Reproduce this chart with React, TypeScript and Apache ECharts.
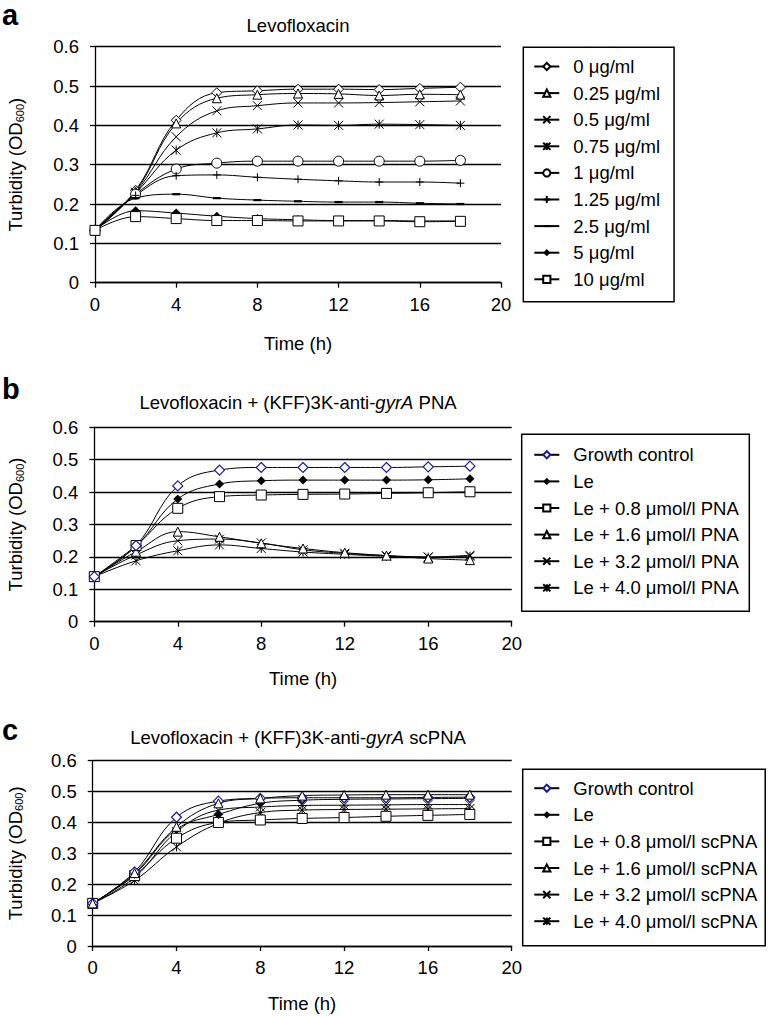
import React, { useEffect, useRef } from "react";
import * as echarts from "echarts";

// ---------- data ----------
const time = [0, 2, 4, 6, 8, 10, 12, 14, 16, 18];
const yTickLabels = ["0", "0.1", "0.2", "0.3", "0.4", "0.5", "0.6"];

// Panel a – Levofloxacin
const aNames = ["0 μg/ml", "0.25 μg/ml", "0.5 μg/ml", "0.75 μg/ml", "1 μg/ml", "1.25 μg/ml", "2.5 μg/ml", "5 μg/ml", "10 μg/ml"];
const a0 = [0.133, 0.235, 0.413, 0.483, 0.488, 0.492, 0.492, 0.491, 0.494, 0.497];
const a025 = [0.133, 0.232, 0.405, 0.469, 0.478, 0.481, 0.48, 0.476, 0.479, 0.478];
const a05 = [0.133, 0.23, 0.371, 0.437, 0.45, 0.457, 0.457, 0.458, 0.46, 0.462];
const a075 = [0.133, 0.228, 0.337, 0.381, 0.391, 0.401, 0.4, 0.403, 0.402, 0.4];
const a1 = [0.133, 0.225, 0.289, 0.304, 0.309, 0.309, 0.309, 0.309, 0.309, 0.311];
const a125 = [0.133, 0.222, 0.272, 0.274, 0.268, 0.263, 0.259, 0.256, 0.256, 0.253];
const a25 = [0.133, 0.215, 0.225, 0.215, 0.21, 0.207, 0.205, 0.205, 0.202, 0.2];
const a5 = [0.133, 0.183, 0.177, 0.169, 0.163, 0.16, 0.158, 0.158, 0.157, 0.157];
const a10 = [0.133, 0.168, 0.163, 0.158, 0.158, 0.157, 0.157, 0.157, 0.155, 0.156];

// Panel b – Levofloxacin + PNA
const bNames = ["Growth control", "Le", "Le + 0.8 μmol/l PNA", "Le + 1.6 μmol/l PNA", "Le + 3.2 μmol/l PNA", "Le + 4.0 μmol/l PNA"];
const bGC = [0.139, 0.235, 0.419, 0.468, 0.476, 0.476, 0.476, 0.476, 0.478, 0.48];
const bLe = [0.139, 0.233, 0.379, 0.425, 0.435, 0.437, 0.437, 0.437, 0.438, 0.441];
const b08 = [0.139, 0.235, 0.35, 0.386, 0.391, 0.393, 0.394, 0.396, 0.398, 0.401];
const b16 = [0.139, 0.216, 0.278, 0.262, 0.242, 0.226, 0.213, 0.204, 0.195, 0.19];
const b32 = [0.139, 0.206, 0.25, 0.255, 0.243, 0.222, 0.211, 0.204, 0.2, 0.205];
const b40 = [0.139, 0.188, 0.219, 0.237, 0.226, 0.215, 0.208, 0.202, 0.199, 0.202];

// Panel c – Levofloxacin + scPNA
const cNames = ["Growth control", "Le", "Le + 0.8 μmol/l scPNA", "Le + 1.6 μmol/l scPNA", "Le + 3.2 μmol/l scPNA", "Le + 4.0 μmol/l scPNA"];
const cGC = [0.138, 0.24, 0.417, 0.469, 0.478, 0.48, 0.48, 0.48, 0.481, 0.482];
const cLe = [0.138, 0.232, 0.378, 0.426, 0.462, 0.472, 0.475, 0.476, 0.477, 0.478];
const c08 = [0.138, 0.228, 0.349, 0.4, 0.408, 0.413, 0.416, 0.42, 0.423, 0.426];
const c16 = [0.138, 0.236, 0.386, 0.462, 0.478, 0.487, 0.489, 0.49, 0.49, 0.49];
const c32 = [0.138, 0.222, 0.37, 0.44, 0.45, 0.455, 0.456, 0.457, 0.458, 0.458];
const c40 = [0.138, 0.212, 0.321, 0.397, 0.432, 0.44, 0.442, 0.443, 0.444, 0.445];

// ---------- styles ----------
const FONT = "'Liberation Sans', Arial, sans-serif";
const FS = 18.5;
const BLUE = "#1c1c96";

const SYM: Record<string, any> = {
  diamondO: { symbol: "diamond", symbolSize: 10, itemStyle: { color: "#fff", borderColor: "#000", borderWidth: 1 } },
  diamondB: { symbol: "diamond", symbolSize: 10, itemStyle: { color: "#fff", borderColor: BLUE, borderWidth: 1.2 } },
  diamondF: { symbol: "diamond", symbolSize: 9, itemStyle: { color: "#000", borderColor: "#000", borderWidth: 0 } },
  triangle: { symbol: "triangle", symbolSize: 9, itemStyle: { color: "#fff", borderColor: "#000", borderWidth: 1 } },
  cross: { symbol: "path://M0,0L10,10M10,0L0,10", symbolSize: 9, itemStyle: { color: "none", borderColor: "#000", borderWidth: 1 } },
  aster: { symbol: "path://M0,0L10,10M10,0L0,10M5,0L5,10", symbolSize: 9, itemStyle: { color: "none", borderColor: "#000", borderWidth: 1 } },
  circle: { symbol: "circle", symbolSize: 10, itemStyle: { color: "#fff", borderColor: "#000", borderWidth: 1 } },
  plus: { symbol: "path://M5,0L5,10M0,5L10,5", symbolSize: 8, itemStyle: { color: "none", borderColor: "#000", borderWidth: 1 } },
  dash: { symbol: "path://M0,0M0,3.6L10,3.6L10,6.4L0,6.4ZM10,10", symbolSize: 8, itemStyle: { color: "#000", borderColor: "#000", borderWidth: 0 } },
  square: { symbol: "rect", symbolSize: 10, itemStyle: { color: "#fff", borderColor: "#000", borderWidth: 1 } },
};

function series(name: string, vals: number[], sym: string, idx: number) {
  const s = SYM[sym];
  return {
    type: "line",
    name,
    xAxisIndex: idx,
    yAxisIndex: idx,
    data: time.map((t, i) => [t, vals[i]]),
    smooth: 0.4,
    symbol: s.symbol,
    symbolSize: s.symbolSize,
    showAllSymbol: true,
    itemStyle: s.itemStyle,
    lineStyle: { color: "#000", width: 1 },
    emphasis: { disabled: true },
    silent: true,
  };
}

const grids = [
  { left: 95, top: 46.7, width: 406, height: 236, nameGapX: 51, nameGapY: 70 },
  { left: 94.3, top: 427.3, width: 417.4, height: 194.4, nameGapX: 47, nameGapY: 69 },
  { left: 92.7, top: 760.7, width: 419, height: 185.3, nameGapX: 48, nameGapY: 68 },
];

function legend(names: string[], left: number, top: number, padding: number[]) {
  return {
    orient: "vertical",
    left,
    top,
    data: names,
    itemWidth: 25,
    itemHeight: 9,
    itemGap: 7.6,
    padding,
    borderColor: "#000",
    borderWidth: 1.5,
    backgroundColor: "#fff",
    selectedMode: false,
    textStyle: { fontSize: FS, color: "#000", fontFamily: FONT, lineHeight: 18, padding: [0, 0, 0, 9] },
  };
}

export default function App() {
  const ref = useRef<HTMLDivElement>(null);
  useEffect(() => {
    if (!ref.current) return;
    const chart = echarts.init(ref.current, null, { renderer: "svg" });
    const axisText = { fontSize: FS, color: "#000", fontFamily: FONT };
    const option: any = {
      animation: false,
      backgroundColor: "#fff",
      grid: grids.map((g) => ({ left: g.left, top: g.top, width: g.width, height: g.height, containLabel: false, outerBoundsMode: "none" })),
      xAxis: grids.map((g, i) => ({
        type: "value",
        gridIndex: i,
        min: 0,
        max: 20,
        interval: 4,
        name: "Time (h)",
        nameLocation: "middle",
        nameGap: g.nameGapX,
        nameTextStyle: axisText,
        axisLine: { show: true, onZero: false, lineStyle: { color: "#000", width: 1.3 } },
        axisTick: { show: true, length: 5, lineStyle: { color: "#000", width: 1.3 } },
        axisLabel: { ...axisText, margin: 12 },
        splitLine: { show: false },
      })),
      yAxis: grids.map((g, i) => ({
        type: "value",
        gridIndex: i,
        min: 0,
        max: 0.6,
        interval: 0.1,
        name: "Turbidity (OD{s|600})",
        nameLocation: "middle",
        nameGap: g.nameGapY,
        nameTextStyle: { ...axisText, rich: { s: { fontSize: 11, fontFamily: FONT, color: "#000", verticalAlign: "bottom" } } },
        axisLine: { show: true, lineStyle: { color: "#000", width: 1.3 } },
        axisTick: { show: true, length: 5, lineStyle: { color: "#000", width: 1.3 } },
        axisLabel: { ...axisText, margin: 16, formatter: (v: number) => yTickLabels[Math.round(v * 10)] },
        splitLine: { show: true, lineStyle: { color: "#000", width: 1.3 } },
      })),
      legend: [
        legend(aNames, 523.3, 47.3, [9.7, 14, 12.9, 10]),
        legend(bNames, 521.7, 434.3, [11, 10.6, 14, 11.6]),
        legend(cNames, 522.7, 769.3, [9.4, 8, 15, 10.6]),
      ],
      series: [
        series(aNames[0], a0, "diamondO", 0),
        series(aNames[1], a025, "triangle", 0),
        series(aNames[2], a05, "cross", 0),
        series(aNames[3], a075, "aster", 0),
        series(aNames[4], a1, "circle", 0),
        series(aNames[5], a125, "plus", 0),
        series(aNames[6], a25, "dash", 0),
        series(aNames[7], a5, "diamondF", 0),
        series(aNames[8], a10, "square", 0),
        series(bNames[5], b40, "aster", 1),
        series(bNames[4], b32, "cross", 1),
        series(bNames[3], b16, "triangle", 1),
        series(bNames[2], b08, "square", 1),
        series(bNames[1], bLe, "diamondF", 1),
        series(bNames[0], bGC, "diamondB", 1),
        series(cNames[5], c40, "aster", 2),
        series(cNames[4], c32, "cross", 2),
        series(cNames[2], c08, "square", 2),
        series(cNames[1], cLe, "diamondF", 2),
        series(cNames[0], cGC, "diamondB", 2),
        series(cNames[3], c16, "triangle", 2),
      ],
      graphic: [
        { type: "text", x: 298, y: 25, style: { text: "Levofloxacin", font: `${FS}px ${FONT}`, fill: "#000", align: "center", verticalAlign: "middle" } },
        {
          type: "text", x: 298, y: 402,
          style: {
            text: "Levofloxacin + (KFF)3K-anti-{i|gyrA} PNA", font: `${FS}px ${FONT}`, fill: "#000", align: "center", verticalAlign: "middle",
            rich: { i: { fontStyle: "italic", fontSize: FS, fontFamily: FONT, fill: "#000" } },
          },
        },
        {
          type: "text", x: 298, y: 737,
          style: {
            text: "Levofloxacin + (KFF)3K-anti-{i|gyrA} scPNA", font: `${FS}px ${FONT}`, fill: "#000", align: "center", verticalAlign: "middle",
            rich: { i: { fontStyle: "italic", fontSize: FS, fontFamily: FONT, fill: "#000" } },
          },
        },
        { type: "text", x: 2, y: 15, style: { text: "a", font: `bold 29px ${FONT}`, fill: "#000", align: "left", verticalAlign: "middle" } },
        { type: "text", x: 2, y: 389, style: { text: "b", font: `bold 29px ${FONT}`, fill: "#000", align: "left", verticalAlign: "middle" } },
        { type: "text", x: 2, y: 730, style: { text: "c", font: `bold 29px ${FONT}`, fill: "#000", align: "left", verticalAlign: "middle" } },
      ],
    };
    chart.setOption(option);
    return () => chart.dispose();
  }, []);
  return <div ref={ref} style={{ position: "absolute", left: 0, top: 0, width: 773, height: 1017, background: "#fff" }} />;
}
